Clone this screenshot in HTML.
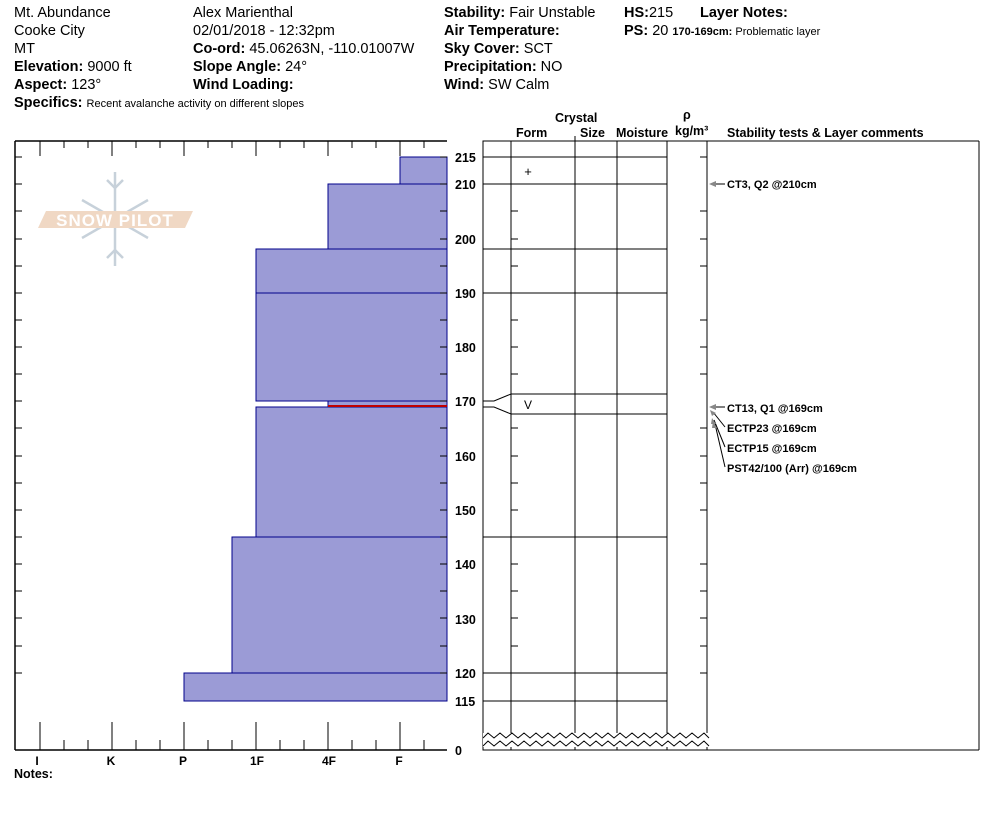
<!DOCTYPE html>
<html><head><style>
html,body{margin:0;padding:0;background:#fff;}
svg{display:block;font-family:"Liberation Sans",Arial,sans-serif;}
.b{font-weight:bold;}
</style></head><body>
<svg width="994" height="840" viewBox="0 0 994 840" xmlns="http://www.w3.org/2000/svg">
<g font-size="14.5" fill="#000">
<text x="14" y="17">Mt. Abundance</text>
<text x="14" y="35">Cooke City</text>
<text x="14" y="53">MT</text>
<text x="14" y="71"><tspan class="b">Elevation:</tspan> 9000 ft</text>
<text x="14" y="89"><tspan class="b">Aspect:</tspan> 123°</text>
<text x="14" y="107"><tspan class="b">Specifics:</tspan> <tspan font-size="11">Recent avalanche activity on different slopes</tspan></text>
<text x="193" y="17">Alex Marienthal</text>
<text x="193" y="35">02/01/2018 - 12:32pm</text>
<text x="193" y="53"><tspan class="b">Co-ord:</tspan> 45.06263N, -110.01007W</text>
<text x="193" y="71"><tspan class="b">Slope Angle:</tspan> 24°</text>
<text x="193" y="89" class="b">Wind Loading:</text>
<text x="444" y="17"><tspan class="b">Stability:</tspan> Fair Unstable</text>
<text x="444" y="35" class="b">Air Temperature:</text>
<text x="444" y="53"><tspan class="b">Sky Cover:</tspan> SCT</text>
<text x="444" y="71"><tspan class="b">Precipitation:</tspan> NO</text>
<text x="444" y="89"><tspan class="b">Wind:</tspan>  SW Calm</text>
<text x="624" y="17"><tspan class="b">HS:</tspan>215</text>
<text x="700" y="17" class="b">Layer Notes:</text>
<text x="624" y="35"><tspan class="b">PS:</tspan> 20 <tspan font-size="11" class="b">170-169cm:</tspan><tspan font-size="11"> Problematic layer</tspan></text>
</g>
<g font-size="12.5" font-weight="bold">
<text x="555" y="122">Crystal</text>
<text x="516" y="137">Form</text>
<text x="580" y="137">Size</text>
<text x="616" y="137">Moisture</text>
<text x="683" y="119">ρ</text>
<text x="675" y="135">kg/m³</text>
<text x="727" y="137">Stability tests &amp; Layer comments</text>
</g>
<g stroke="#c2cdd6" stroke-width="2.5" fill="none" opacity="0.9">
<line x1="115" y1="172" x2="115" y2="266"/>
<line x1="82" y1="200" x2="148" y2="238"/>
<line x1="82" y1="238" x2="148" y2="200"/>
<polyline points="107,180 115,188 123,180"/><polyline points="107,258 115,250 123,258"/>
</g>
<polygon points="46,211 193,211 185,228 38,228" fill="#f0d8c4"/>
<text x="115" y="226" font-size="17" font-weight="bold" fill="#fff" text-anchor="middle" letter-spacing="1">SNOW PILOT</text>
<g fill="#9b9bd6" stroke="#00008b" stroke-width="1">
<rect x="400" y="157" width="47" height="27"/>
<rect x="328" y="184" width="119" height="65"/>
<rect x="256" y="249" width="191" height="44"/>
<rect x="256" y="293" width="191" height="108"/>
<rect x="328" y="401" width="119" height="6"/>
<rect x="256" y="407" width="191" height="130"/>
<rect x="232" y="537" width="215" height="136"/>
<rect x="184" y="673" width="263" height="28"/>
</g>
<line x1="328" y1="406" x2="447" y2="406" stroke="#c00000" stroke-width="2"/>
<g stroke="#000" stroke-width="1.5" fill="none">
<polyline points="15,141 447,141"/>
<line x1="15" y1="141" x2="15" y2="750"/>
<line x1="15" y1="750" x2="447" y2="750"/>
</g>
<g stroke="#000" stroke-width="1">
<path d="M40 141v15M112 141v15M184 141v15M256 141v15M328 141v15M400 141v15M64 141v7M88 141v7M136 141v7M160 141v7M208 141v7M232 141v7M280 141v7M304 141v7M352 141v7M376 141v7M424 141v7"/>
<path d="M40 750v-28M112 750v-28M184 750v-28M256 750v-28M328 750v-28M400 750v-28M64 750v-10M88 750v-10M136 750v-10M160 750v-10M208 750v-10M232 750v-10M280 750v-10M304 750v-10M352 750v-10M376 750v-10M424 750v-10"/>
<path d="M15 157h7M15 184h7M15 211h7M15 239h7M15 266h7M15 293h7M15 320h7M15 347h7M15 374h7M15 401h7M15 428h7M15 456h7M15 483h7M15 510h7M15 537h7M15 564h7M15 591h7M15 618h7M15 646h7M15 673h7"/>
<path d="M447 157h-7M447 184h-7M447 211h-7M447 239h-7M447 266h-7M447 293h-7M447 320h-7M447 347h-7M447 374h-7M447 401h-7M447 428h-7M447 456h-7M447 483h-7M447 510h-7M447 537h-7M447 564h-7M447 591h-7M447 618h-7M447 646h-7M447 673h-7"/>
</g>
<g font-size="12" font-weight="bold" text-anchor="middle">
<text x="37" y="765">I</text><text x="111" y="765">K</text><text x="183" y="765">P</text>
<text x="257" y="765">1F</text><text x="329" y="765">4F</text><text x="399" y="765">F</text>
</g>
<text x="14" y="778" font-size="12.5" font-weight="bold">Notes:</text>
<g font-size="12.5" font-weight="bold">
<text x="455" y="162">215</text><text x="455" y="189">210</text><text x="455" y="244">200</text>
<text x="455" y="298">190</text><text x="455" y="352">180</text><text x="455" y="406">170</text>
<text x="455" y="461">160</text><text x="455" y="515">150</text><text x="455" y="569">140</text>
<text x="455" y="624">130</text><text x="455" y="678">120</text><text x="455" y="706">115</text>
<text x="455" y="755">0</text>
</g>
<g stroke="#000" stroke-width="1" fill="none">
<rect x="483" y="141" width="224" height="609"/>
<line x1="511" y1="141" x2="511" y2="750"/>
<line x1="575" y1="141" x2="575" y2="750"/>
<line x1="575" y1="136" x2="575" y2="141"/>
<line x1="617" y1="141" x2="617" y2="750"/>
<line x1="667" y1="141" x2="667" y2="750"/>
<line x1="707" y1="141" x2="979" y2="141"/>
<line x1="979" y1="141" x2="979" y2="750"/>
<line x1="707" y1="750" x2="979" y2="750"/>
<path d="M483 157H667M483 184H667M483 249H667M483 293H667M483 537H667M483 673H667M483 701H667"/>
<path d="M483 401L494 401L511 394H667M483 407L494 407L511 414H667"/>
<path d="M511 211h7M511 239h7M511 266h7M511 320h7M511 347h7M511 374h7M511 428h7M511 456h7M511 483h7M511 510h7M511 564h7M511 591h7M511 618h7M511 646h7"/>
<path d="M707 157h-7M707 211h-7M707 239h-7M707 266h-7M707 320h-7M707 347h-7M707 374h-7M707 428h-7M707 456h-7M707 483h-7M707 510h-7M707 564h-7M707 591h-7M707 618h-7M707 646h-7M707 673h-7"/>
</g>
<rect x="483" y="733" width="226" height="14" fill="#fff"/>
<g stroke="#000" stroke-width="1" fill="none">
<polyline points="483,738 488,733 494,738 500,733 506,738 512,733 518,738 524,733 530,738 536,733 542,738 548,733 554,738 560,733 566,738 572,733 578,738 584,733 590,738 596,733 602,738 608,733 614,738 620,733 626,738 632,733 638,738 644,733 650,738 656,733 662,738 668,733 674,738 680,733 686,738 692,733 698,738 704,733 709,738"/>
<polyline points="483,746 488,741 494,746 500,741 506,746 512,741 518,746 524,741 530,746 536,741 542,746 548,741 554,746 560,741 566,746 572,741 578,746 584,741 590,746 596,741 602,746 608,741 614,746 620,741 626,746 632,741 638,746 644,741 650,746 656,741 662,746 668,741 674,746 680,741 686,746 692,741 698,746 704,741 709,746"/>
</g>
<text x="528" y="176" font-size="13" text-anchor="middle">+</text>
<text x="528" y="409" font-size="12" text-anchor="middle">V</text>
<g stroke="#000" stroke-width="1" fill="none">
<path d="M725 184H712M725 407H712M725 427L713 412M725 447L714 420M725 467L715 424"/>
</g>
<g fill="#888">
<polygon points="709,184 716,181 716,187"/><polygon points="709,407 716,404 716,410"/>
<polygon points="710,410 716,413 712,416"/><polygon points="712,418 716,424 711,424"/><polygon points="713,421 717,428 712,428"/>
</g>
<g font-size="11" font-weight="bold">
<text x="727" y="188">CT3, Q2 @210cm</text>
<text x="727" y="412">CT13, Q1 @169cm</text>
<text x="727" y="432">ECTP23 @169cm</text>
<text x="727" y="452">ECTP15 @169cm</text>
<text x="727" y="472">PST42/100 (Arr) @169cm</text>
</g>
</svg>
</body></html>
